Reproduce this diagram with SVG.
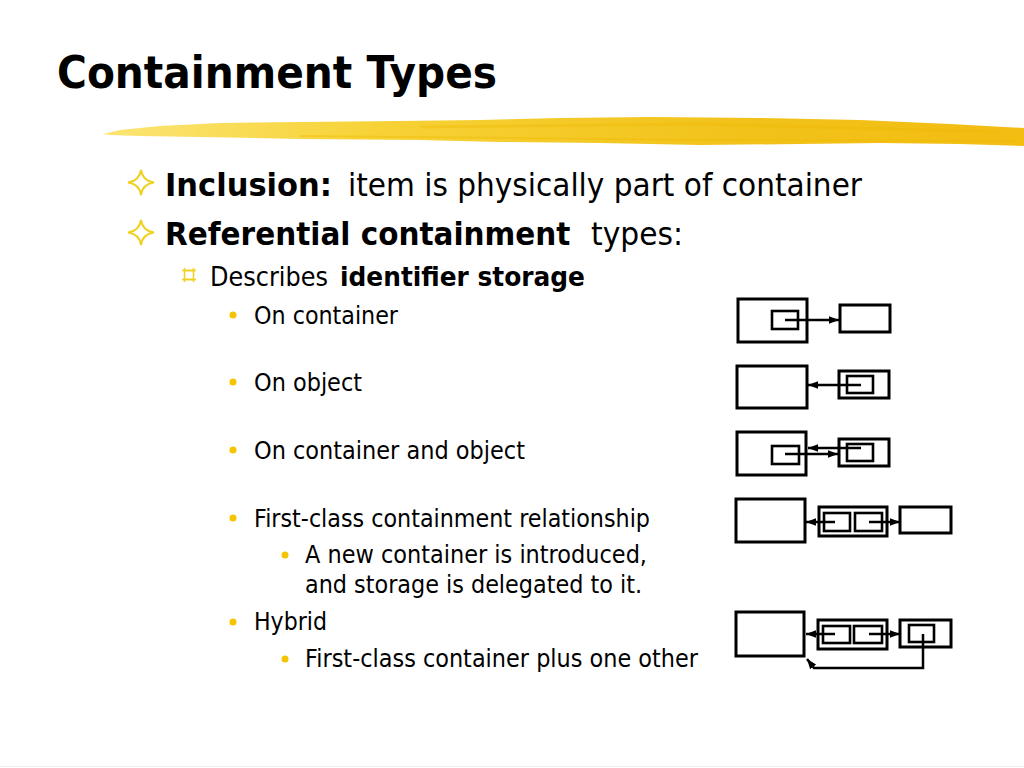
<svg xmlns="http://www.w3.org/2000/svg" width="1024" height="768" viewBox="0 0 1024 768">
<defs>
<style>
text{font-family:"DejaVu Sans","Verdana","Liberation Sans",sans-serif;fill:#000}
.title{font-size:45px;font-weight:bold}
.l1{font-size:32px}
.l2{font-size:27px}
.l3{font-size:24px}
.b{font-weight:bold}
.box{fill:none;stroke:#000;stroke-width:3}
.ibox{fill:none;stroke:#000;stroke-width:2.6}
.arr{fill:none;stroke:#000;stroke-width:2.5;marker-end:url(#ah)}
.dot{fill:#F5C400}
.star{fill:none;stroke:#F0D020;stroke-width:2}
</style>
<marker id="ah" markerUnits="userSpaceOnUse" markerWidth="11" markerHeight="10" refX="10" refY="5" orient="auto">
<path d="M0,1.2 L10,5 L0,8.8 Z" fill="#000"/>
</marker>
<linearGradient id="brush" x1="0" y1="0" x2="1" y2="0">
<stop offset="0" stop-color="#FBE574"/>
<stop offset="0.3" stop-color="#F7D236"/>
<stop offset="0.7" stop-color="#F2C21A"/>
<stop offset="1" stop-color="#F3BD12"/>
</linearGradient>
</defs>
<rect width="1024" height="768" fill="#fff"/>

<g id="title">
<text class="title" x="57" y="88" textLength="440" lengthAdjust="spacingAndGlyphs">Containment Types</text>
</g>

<g id="brush-stroke">
<path d="M103,134 L120,130 L160,126 L220,123 L300,122 L400,121 L480,120 L560,118 L650,117 L760,118 L860,120 L950,124 L1024,128 L1024,146 L960,144 L880,143 L800,144 L700,145 L600,143 L500,142 L420,140 L300,139 L200,137 L140,136 L110,135 Z" fill="url(#brush)"/>
<path d="M420,127 L700,124 L1000,132" stroke="#EDB800" stroke-width="3" fill="none" opacity="0.35"/>
<path d="M300,136 L700,140 L1020,141" stroke="#EDB800" stroke-width="2" fill="none" opacity="0.4"/>
</g>

<g id="bullets">
<path class="star" d="M141,170 Q142.6,181 154,182.5 Q142.6,184 141,195 Q139.4,184 128,182.5 Q139.4,181 141,170 Z"/>
<path class="star" d="M141,220 Q142.6,231 154,232.5 Q142.6,234 141,245 Q139.4,234 128,232.5 Q139.4,231 141,220 Z"/>
<g stroke="#F0D020" stroke-width="1.6" fill="none">
<rect x="184.5" y="270.5" width="9" height="9"/>
<path d="M182,270.5 H196 M182,279.5 H196 M184.5,268 V270.5 M193.5,268 V270.5 M184.5,279.5 V282 M193.5,279.5 V282"/>
</g>
<circle class="dot" cx="233" cy="315" r="3.5"/>
<circle class="dot" cx="233" cy="382" r="3.5"/>
<circle class="dot" cx="233" cy="450" r="3.5"/>
<circle class="dot" cx="233" cy="518" r="3.5"/>
<circle class="dot" cx="285" cy="555" r="3.5"/>
<circle class="dot" cx="233" cy="622" r="3.5"/>
<circle class="dot" cx="285" cy="659" r="3.5"/>
</g>

<g id="text">
<text class="l1" y="196"><tspan class="b" x="165" textLength="167" lengthAdjust="spacingAndGlyphs">Inclusion:</tspan><tspan x="348" textLength="514" lengthAdjust="spacingAndGlyphs">item is physically part of container</tspan></text>
<text class="l1 b" transform="translate(165,245) scale(0.93,1)" x="0" y="0" textLength="436" lengthAdjust="spacingAndGlyphs">Referential containment</text>
<text class="l1" x="591" y="245" textLength="92" lengthAdjust="spacingAndGlyphs">types:</text>
<text class="l2" y="286"><tspan x="210" textLength="118" lengthAdjust="spacingAndGlyphs">Describes</tspan><tspan class="b" x="340" textLength="245" lengthAdjust="spacingAndGlyphs">identifier storage</tspan></text>
<text class="l3" x="254" y="324" textLength="144" lengthAdjust="spacingAndGlyphs">On container</text>
<text class="l3" x="254" y="391" textLength="108" lengthAdjust="spacingAndGlyphs">On object</text>
<text class="l3" x="254" y="459" textLength="271" lengthAdjust="spacingAndGlyphs">On container and object</text>
<text class="l3" x="254" y="527" textLength="396" lengthAdjust="spacingAndGlyphs">First-class containment relationship</text>
<text class="l3" x="305" y="563" textLength="342" lengthAdjust="spacingAndGlyphs">A new container is introduced,</text>
<text class="l3" x="305" y="593" textLength="337" lengthAdjust="spacingAndGlyphs">and storage is delegated to it.</text>
<text class="l3" x="254" y="630" textLength="73" lengthAdjust="spacingAndGlyphs">Hybrid</text>
<text class="l3" x="305" y="667" textLength="393" lengthAdjust="spacingAndGlyphs">First-class container plus one other</text>
</g>

<g id="d1">
<rect class="box" x="738" y="299" width="69" height="43"/>
<rect class="ibox" x="772" y="311" width="26" height="18"/>
<rect class="box" x="840" y="305" width="50" height="27"/>
</g>
<g id="d2">
<rect class="box" x="737" y="366" width="70" height="42"/>
<rect class="box" x="839" y="371" width="50" height="27"/>
<rect class="ibox" x="847" y="376" width="26" height="17"/>
</g>
<g id="d3">
<rect class="box" x="737" y="432" width="69" height="43"/>
<rect class="ibox" x="772" y="446" width="27" height="18"/>
<rect class="box" x="839" y="439" width="50" height="27"/>
<rect class="ibox" x="847" y="444" width="26" height="17"/>
</g>
<g id="d4">
<rect class="box" x="736" y="499" width="69" height="43"/>
<rect class="box" x="819" y="507" width="68" height="29"/>
<rect class="ibox" x="824" y="513" width="26" height="18"/>
<rect class="ibox" x="855" y="513" width="27" height="18"/>
<rect class="box" x="900" y="507" width="51" height="26"/>
</g>
<g id="d5">
<rect class="box" x="736" y="612" width="68" height="44"/>
<rect class="box" x="818" y="620" width="69" height="29"/>
<rect class="ibox" x="823" y="626" width="27" height="17"/>
<rect class="ibox" x="854" y="626" width="28" height="17"/>
<rect class="box" x="900" y="620" width="51" height="27"/>
<rect class="ibox" x="909" y="625" width="25" height="17"/>
</g>

<g id="connectors">
<path class="arr" d="M785,320 H839"/>
<path class="arr" d="M861,385 H808"/>
<path class="arr" d="M861,448 H808"/>
<path class="arr" d="M785,454 H838"/>
<path class="arr" d="M835,522 H806"/>
<path class="arr" d="M869,522 H900"/>
<path class="arr" d="M835,634 H806"/>
<path class="arr" d="M869,634 H900"/>
<path class="arr" d="M923,634 V668 H814 L807,659"/>
</g>

<line x1="0" y1="766.5" x2="1024" y2="766.5" stroke="#eeeeee" stroke-width="1"/>
</svg>
